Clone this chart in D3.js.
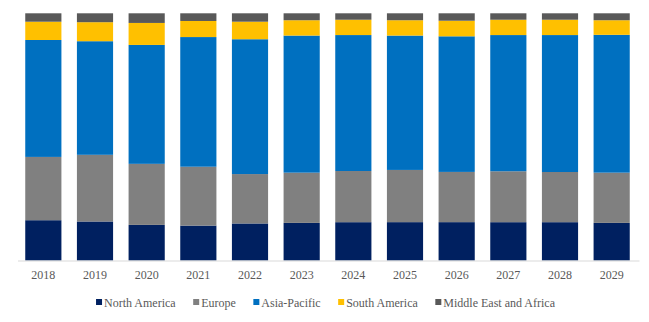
<!DOCTYPE html>
<html>
<head>
<meta charset="utf-8">
<script src="https://cdn.jsdelivr.net/npm/d3@7"></script>
<style>
  body { margin: 0; background: #fff; }
  text { font-family: "Liberation Serif", "Times New Roman", serif; }
</style>
</head>
<body>
<div id="chart"></div>
<script>
var years = ["2018", "2019", "2020", "2021", "2022", "2023", "2024", "2025", "2026", "2027", "2028", "2029"];
var regions = ["North America", "Europe", "Asia-Pacific", "South America", "Middle East and Africa"];

// share of each region, percent
var northAmerica = [16.3, 15.8, 14.4, 14.1, 15.0, 15.2, 15.5, 15.5, 15.5, 15.5, 15.5, 15.2];
var europe       = [25.6, 27.0, 24.7, 23.8, 20.0, 20.3, 20.7, 21.1, 20.3, 20.6, 20.3, 20.3];
var asiaPacific  = [47.3, 46.0, 48.1, 52.4, 54.6, 55.4, 55.0, 54.3, 54.8, 55.1, 55.4, 55.7];
var southAmerica = [7.4, 7.7, 8.9, 6.5, 7.1, 6.2, 6.2, 6.2, 6.3, 6.2, 6.2, 5.9];
var middleEast   = [3.4, 3.6, 3.9, 3.1, 3.4, 2.8, 2.6, 2.8, 3.0, 2.6, 2.6, 2.8];

var colors = ["#002060", "#808080", "#0070c0", "#ffc000", "#595959"];

var width = 649, height = 322;
var margin = { top: 13.3, right: 11.5, bottom: 61.5, left: 17.5 };
var innerW = width - margin.left - margin.right,
    innerH = height - margin.top - margin.bottom;

var rows = years.map(function (y, i) {
  var r = { year: y };
  r[regions[0]] = northAmerica[i];
  r[regions[1]] = europe[i];
  r[regions[2]] = asiaPacific[i];
  r[regions[3]] = southAmerica[i];
  r[regions[4]] = middleEast[i];
  return r;
});

var stack = d3.stack().keys(regions).offset(d3.stackOffsetExpand);
var series = stack(rows);

var x = d3.scaleBand().domain(years).range([0, innerW]).paddingInner(0.3).paddingOuter(0.15);
var y = d3.scaleLinear().domain([0, 1]).range([innerH, 0]);
var color = d3.scaleOrdinal().domain(regions).range(colors);

var svg = d3.select("#chart")
  .append("svg")
  .attr("width", width)
  .attr("height", height);

var g = svg.append("g")
  .attr("transform", "translate(" + margin.left + "," + margin.top + ")");

g.selectAll("g.layer")
  .data(series)
  .enter()
  .append("g")
  .attr("class", "layer")
  .attr("fill", function (d) { return color(d.key); })
  .selectAll("rect")
  .data(function (d) { return d; })
  .enter()
  .append("rect")
  .attr("x", function (d) { return x(d.data.year); })
  .attr("width", x.bandwidth())
  .attr("y", function (d) { return y(d[1]); })
  .attr("height", function (d) { return y(d[0]) - y(d[1]); });

// x axis
var xAxis = d3.axisBottom(x).tickSize(0).tickPadding(9);
var ax = g.append("g")
  .attr("transform", "translate(0," + (innerH + 0.5) + ")")
  .call(xAxis);
ax.select(".domain").attr("stroke", "#d9d9d9").attr("d", "M0.5,0H" + (innerW + 2));
ax.selectAll("text")
  .attr("fill", "#595959")
  .style("font-size", "12px")
  .style("font-family", "'Liberation Serif', 'Times New Roman', serif");

// legend
var legend = svg.append("g").attr("transform", "translate(0,302.5)");
var items = legend.selectAll("g")
  .data(regions)
  .enter()
  .append("g");

items.append("rect")
  .attr("width", 6)
  .attr("height", 6)
  .attr("y", -3.5)
  .attr("fill", function (d) { return color(d); });

items.append("text")
  .attr("x", 8)
  .attr("dy", "0.35em")
  .attr("fill", "#595959")
  .style("font-size", "12px")
  .text(function (d) { return d; });

var gap = 17.5, pos = 0, offsets = [];
items.each(function () {
  offsets.push(pos);
  var w = 8 + d3.select(this).select("text").node().getComputedTextLength();
  pos += w + gap;
});
var total = pos - gap;
var start = 325.5 - total / 2;
items.attr("transform", function (d, i) { return "translate(" + (start + offsets[i]) + ",0)"; });
</script>
</body>
</html>
